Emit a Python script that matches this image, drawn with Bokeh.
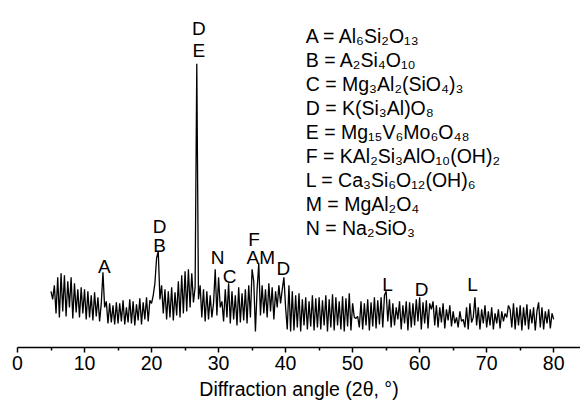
from bokeh.plotting import figure
from bokeh.models import Range1d, FixedTicker, ColumnDataSource
from bokeh.core.properties import value
from bokeh.embed import file_html
from bokeh.resources import INLINE

# ---- data -------------------------------------------------------------
angle_start = 5.0
angle_step = 0.25
intensity = [
    # 5.00 - 9.75
    56, 48, 62, 34, 70, 30, 74, 36, 72, 31, 66, 40, 70, 29, 64, 35, 58, 30, 60, 34,
    # 10.00 - 14.75
    58, 28, 56, 30, 52, 27, 55, 31, 50, 26, 44, 75, 40, 46, 24, 44, 25, 42, 23, 45,
    # 15.00 - 19.75
    24, 44, 26, 47, 23, 40, 25, 48, 24, 46, 22, 43, 27, 49, 23, 45, 28, 50, 26, 47,
    # 20.00 - 24.75
    44, 52, 64, 89, 96, 48, 62, 34, 58, 28, 56, 30, 60, 27, 55, 32, 66, 30, 72, 34,
    # 25.00 - 29.75
    76, 36, 78, 40, 74, 45, 60, 283, 48, 62, 30, 58, 26, 56, 28, 52, 30, 44, 78, 32,
    # 30.00 - 34.75
    70, 40, 46, 26, 58, 30, 64, 24, 56, 28, 52, 22, 60, 25, 54, 27, 58, 24, 62, 30,
    # 35.00 - 39.75
    78, 66, 16, 58, 84, 32, 62, 34, 58, 30, 64, 36, 60, 28, 56, 40, 62, 44, 58, 70,
    # 40.00 - 44.75
    40, 18, 62, 16, 56, 17, 52, 20, 54, 16, 48, 22, 50, 18, 46, 21, 52, 17, 49, 20,
    # 45.00 - 49.75
    50, 18, 47, 22, 52, 16, 48, 20, 53, 17, 50, 22, 46, 18, 51, 16, 49, 21, 54, 17,
    # 50.00 - 54.75
    44, 30, 29, 31, 20, 46, 18, 44, 22, 48, 17, 45, 21, 50, 19, 47, 23, 50, 20, 52,
    # 55.00 - 59.75
    56, 26, 48, 20, 44, 22, 40, 28, 46, 18, 42, 24, 46, 17, 45, 20, 44, 22, 48, 26,
    # 60.00 - 64.75
    50, 18, 45, 24, 47, 19, 44, 38, 46, 22, 42, 20, 40, 25, 44, 19, 38, 27, 42, 21,
    # 65.00 - 69.75
    36, 24, 30, 20, 36, 26, 28, 20, 40, 18, 44, 25, 30, 50, 22, 40, 18, 38, 24, 42,
    # 70.00 - 74.75
    20, 36, 22, 40, 18, 34, 24, 38, 19, 36, 26, 34, 30, 42, 38, 20, 44, 18, 40, 22,
    # 75.00 - 80.00
    42, 17, 40, 22, 43, 18, 38, 24, 40, 17, 36, 45, 20, 40, 18, 36, 24, 38, 19, 34,
    28,
]
angles = [angle_start + i * angle_step for i in range(len(intensity))]

peak_labels = ["D", "E", "A", "D", "B", "N", "C", "F", "AM", "D", "L", "D", "L"]
peak_label_angle = [27.05, 27.05, 12.96, 21.2, 21.2, 29.85, 31.66, 35.3, 36.3, 39.67, 55.2, 60.3, 67.9]
peak_label_height = [318, 296, 81, 121, 102, 89.3, 70.5, 107.6, 89.3, 78.3, 62.6, 57.6, 62.6]

legend_lines = [
    "A = Al\u2086Si\u2082O\u2081\u2083",
    "B = A\u2082Si\u2084O\u2081\u2080",
    "C = Mg\u2083Al\u2082(SiO\u2084)\u2083",
    "D = K(Si\u2083Al)O\u2088",
    "E = Mg\u2081\u2085V\u2086Mo\u2086O\u2084\u2088",
    "F = KAl\u2082Si\u2083AlO\u2081\u2080(OH)\u2082",
    "L = Ca\u2083Si\u2086O\u2081\u2082(OH)\u2086",
    "M = MgAl\u2082O\u2084",
    "N = Na\u2082SiO\u2083",
]

x_ticks = [0, 10, 20, 30, 40, 50, 60, 70, 80]
x_minor_ticks = [5, 15, 25, 35, 45, 55, 65, 75]

# ---- figure -----------------------------------------------------------
FONT = "Liberation Sans"

p = figure(
    width=580, height=402,
    output_backend="svg", toolbar_location=None,
    x_range=Range1d(0, 84.0), y_range=Range1d(0, 346),
    y_axis_location=None,
    min_border_left=17, min_border_right=0, min_border_top=0, min_border_bottom=0,
)
p.outline_line_color = None
p.xgrid.visible = False
p.ygrid.visible = False
p.background_fill_color = "white"
p.border_fill_color = "white"

src = ColumnDataSource(dict(x=angles, y=intensity))
p.line("x", "y", source=src, line_color="black", line_width=1.3)

lab_src = ColumnDataSource(dict(x=peak_label_angle, y=peak_label_height, t=peak_labels))
p.text("x", "y", text="t", source=lab_src,
       text_font=value(FONT), text_font_size="19px", text_color="black",
       text_align="center", text_baseline="alphabetic")

legend_x = [43.0] * len(legend_lines)
legend_y = [311 - 24 * i for i in range(len(legend_lines))]
leg_src = ColumnDataSource(dict(x=legend_x, y=legend_y, t=legend_lines))
p.text("x", "y", text="t", source=leg_src,
       text_font=value(FONT), text_font_size="19.5px", text_color="black",
       text_align="left", text_baseline="alphabetic")

ax = p.xaxis[0]
ax.ticker = FixedTicker(ticks=x_ticks, minor_ticks=x_minor_ticks)
ax.axis_label = "Diffraction angle (2\u03b8, \u00b0)"
ax.axis_label_text_font = FONT
ax.axis_label_text_font_size = "19.5px"
ax.axis_label_text_font_style = "normal"
ax.axis_label_text_color = "black"
ax.axis_label_standoff = 5
ax.major_label_text_font = FONT
ax.major_label_text_font_size = "19.5px"
ax.major_label_text_color = "black"
ax.major_label_standoff = 3
ax.axis_line_width = 1.5
ax.axis_line_color = "black"
ax.major_tick_line_color = "black"
ax.minor_tick_line_color = "black"
ax.major_tick_line_width = 1.5
ax.minor_tick_line_width = 1.5
ax.major_tick_in = 0
ax.major_tick_out = 5
ax.minor_tick_in = 0
ax.minor_tick_out = 3

open("out.html", "w").write(file_html(p, INLINE))
